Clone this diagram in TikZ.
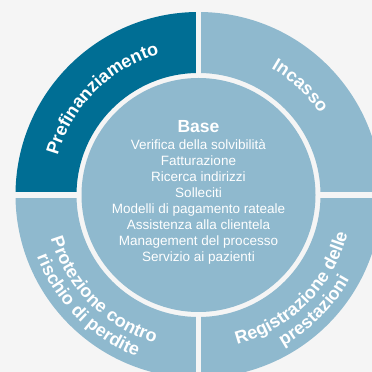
\documentclass[tikz,border=0pt]{standalone}
\usepackage{fontspec}
\setmainfont{Liberation Sans}
\usetikzlibrary{calc,decorations.text}
\definecolor{bg}{RGB}{245,245,245}
\definecolor{darkseg}{RGB}{0,110,148}
\definecolor{lightseg}{RGB}{143,185,206}
\newcommand\ringfont{\fontsize{18}{20}\selectfont\bfseries}
\begin{document}
\begin{tikzpicture}[x=1pt,y=1pt,
  listtext/.style={text=white,font=\fontsize{13.5}{16}\selectfont,inner sep=0pt,anchor=base},
  ringtext/.style={decorate,decoration={text along path,text align=center,text color=white,text={|\ringfont|#1}}}]
\useasboundingbox (0,0) rectangle (372,372);
\fill[bg] (0,0) rectangle (372,372);
\clip (0,0) rectangle (372,372);
\coordinate (C) at (198.5,177);
% ring quadrants
\fill[darkseg] ($(C)+(180:183)$) arc[start angle=180,end angle=90,radius=183]
  -- ($(C)+(90:122)$) arc[start angle=90,end angle=180,radius=122] -- cycle;
\fill[lightseg] ($(C)+(90:183)$) arc[start angle=90,end angle=0,radius=183]
  -- ($(C)+(0:122)$) arc[start angle=0,end angle=90,radius=122] -- cycle;
\fill[lightseg] ($(C)+(0:183)$) arc[start angle=0,end angle=-90,radius=183]
  -- ($(C)+(-90:122)$) arc[start angle=-90,end angle=0,radius=122] -- cycle;
\fill[lightseg] ($(C)+(-90:183)$) arc[start angle=-90,end angle=-180,radius=183]
  -- ($(C)+(180:122)$) arc[start angle=180,end angle=270,radius=122] -- cycle;
% gaps
\draw[bg,line width=5.5pt] ($(C)+(0,-190)$) -- ($(C)+(0,190)$);
\draw[bg,line width=5.5pt] ($(C)+(-190,0)$) -- ($(C)+(190,0)$);
% centre disc
\fill[lightseg] (C) circle[radius=117];
% ring texts
\path[ringtext=Prefinanziamento] ($(C)+(180:146)$) arc[start angle=180,end angle=90,radius=146];
\path[ringtext=Incasso] ($(C)+(92:146)$) arc[start angle=92,end angle=2,radius=146];
\path[ringtext=Registrazione delle] ($(C)+(-90:154)$) arc[start angle=-90,end angle=0,radius=154];
\path[ringtext=prestazioni] ($(C)+(-90:173)$) arc[start angle=-90,end angle=0,radius=173];
\path[ringtext=Protezione contro] ($(C)+(180:154)$) arc[start angle=180,end angle=270,radius=154];
\path[ringtext=rischio di perdite] ($(C)+(180:173)$) arc[start angle=180,end angle=270,radius=173];
% centre texts
\node[text=white,font=\fontsize{17.5}{20}\selectfont\bfseries,inner sep=0pt,anchor=base] (base) at (198.5,239) {Base};
\foreach [count=\i] \t in {Verifica della solvibilità,Fatturazione,Ricerca indirizzi,Solleciti,Modelli di pagamento rateale,Assistenza alla clientela,Management del processo,Servizio ai pazienti}
  \node[listtext] (l\i) at (198.5,{372-149.5-16*(\i-1)}) {\t};
\end{tikzpicture}
\end{document}
